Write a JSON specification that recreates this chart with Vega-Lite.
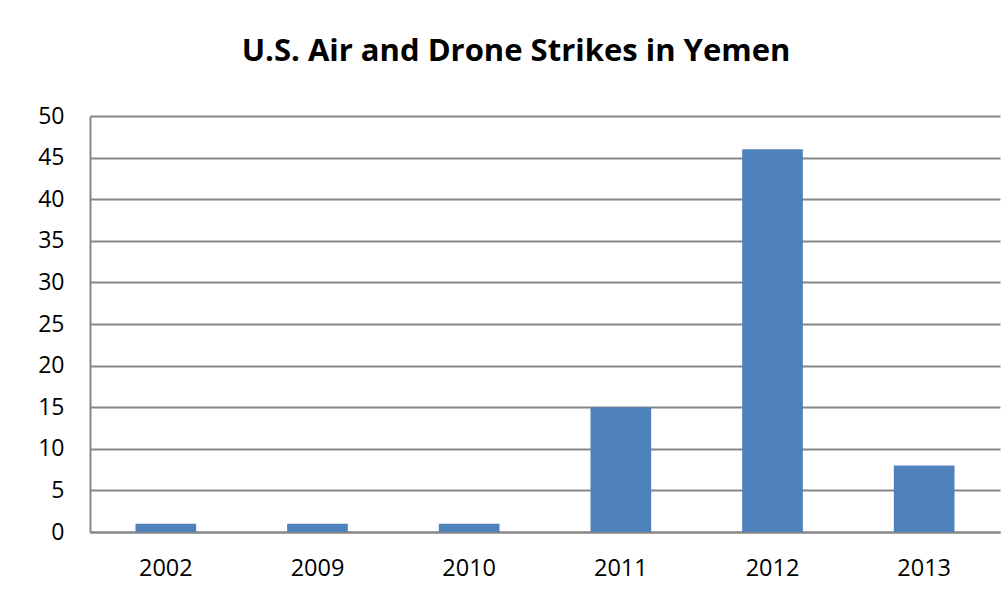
{
  "$schema": "https://vega.github.io/schema/vega-lite/v6.json",
  "autosize": {"type": "none"},
  "width": 910,
  "height": 416,
  "padding": {"left": 90, "top": 116, "right": 8, "bottom": 75},
  "background": "white",
  "title": {
    "text": "U.S. Air and Drone Strikes in Yemen",
    "font": "Open Sans",
    "fontSize": 31,
    "fontWeight": "bold",
    "color": "black",
    "anchor": "middle",
    "dx": -29,
    "baseline": "alphabetic",
    "offset": 13
  },
  "data": {
    "values": [
      {"year": "2002", "strikes": 1},
      {"year": "2009", "strikes": 1},
      {"year": "2010", "strikes": 1},
      {"year": "2011", "strikes": 15},
      {"year": "2012", "strikes": 46},
      {"year": "2013", "strikes": 8}
    ]
  },
  "mark": {"type": "bar", "color": "#4F81BD"},
  "encoding": {
    "x": {
      "field": "year",
      "type": "nominal",
      "scale": {"paddingInner": 0.6, "paddingOuter": 0.3},
      "axis": {
        "title": null,
        "labelAngle": 0,
        "labelFont": "Open Sans",
        "labelFontSize": 23.5,
        "labelColor": "black",
        "labelPadding": 24,
        "ticks": false,
        "tickSize": 0,
        "domainColor": "#868686",
        "domainWidth": 2,
        "grid": false
      }
    },
    "y": {
      "field": "strikes",
      "type": "quantitative",
      "scale": {"domain": [0, 50]},
      "axis": {
        "title": null,
        "values": [0, 5, 10, 15, 20, 25, 30, 35, 40, 45, 50],
        "labelFont": "Open Sans",
        "labelFontSize": 23,
        "labelColor": "black",
        "labelPadding": 26,
        "ticks": false,
        "tickSize": 0,
        "domainColor": "#868686",
        "domainWidth": 2,
        "grid": true,
        "gridColor": "#868686",
        "gridWidth": 2
      }
    }
  },
  "config": {"view": {"stroke": null}}
}
